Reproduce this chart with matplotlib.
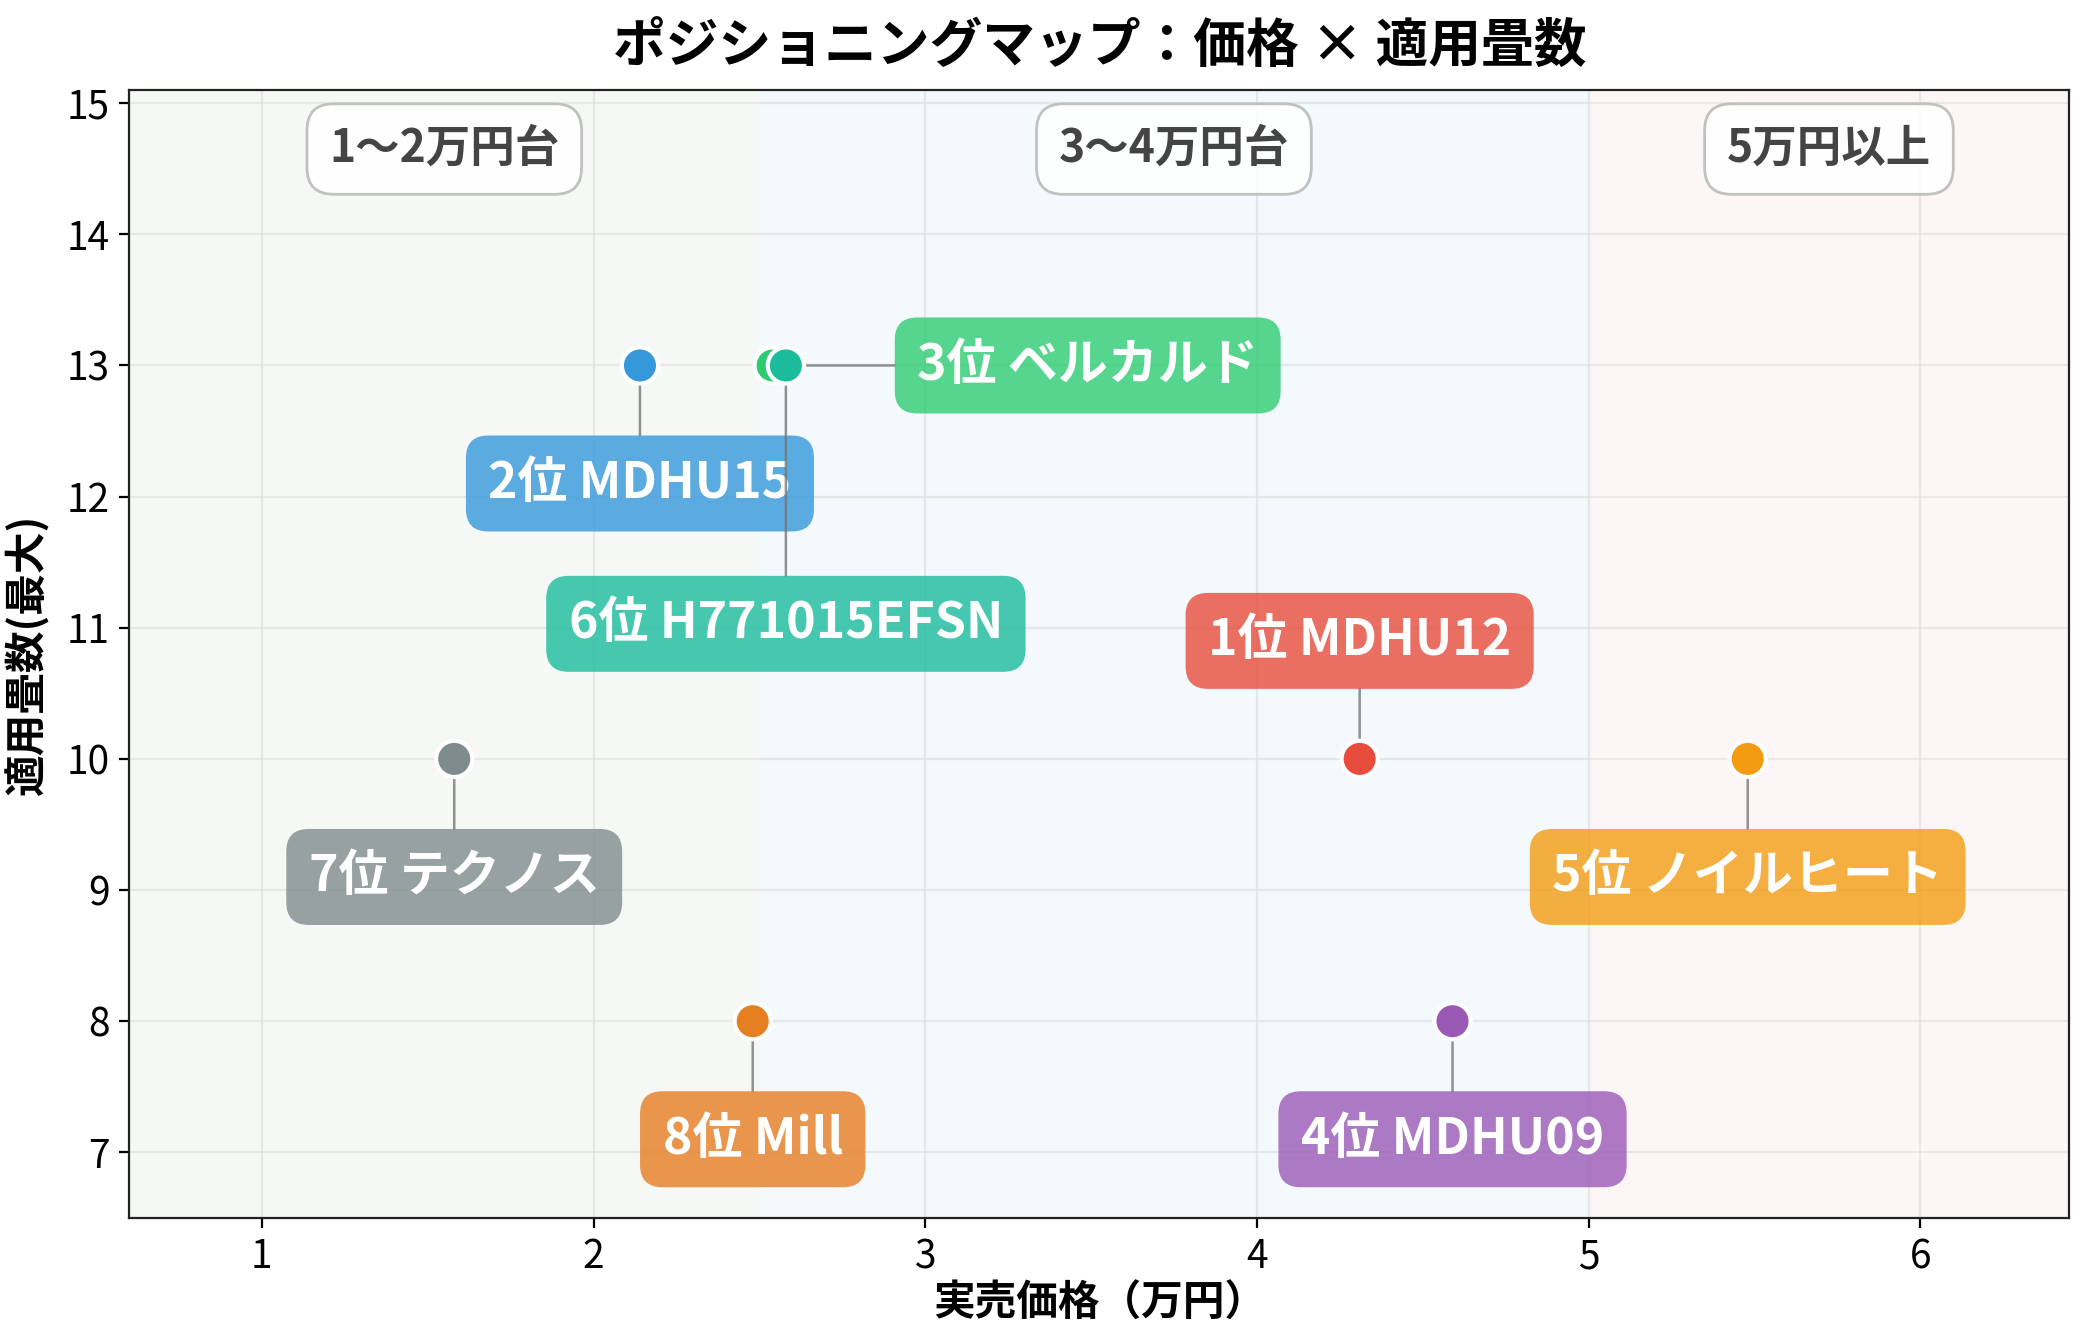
import matplotlib
matplotlib.use("Agg")
import matplotlib.pyplot as plt

plt.rcParams['font.family'] = ['Noto Sans CJK JP', 'DejaVu Sans']

# データ
names = ["1位 MDHU12", "2位 MDHU15", "3位 ベルカルド", "4位 MDHU09",
         "5位 ノイルヒート", "6位 H771015EFSN", "7位 テクノス", "8位 Mill"]
prices = [4.31, 2.14, 2.54, 4.59, 5.48, 2.58, 1.58, 2.48]   # 万円
tatami = [10, 13, 13, 8, 10, 13, 10, 8]
colors = ["#e74c3c", "#3498db", "#2ecc71", "#9b59b6",
          "#f39c12", "#1abc9c", "#7f8c8d", "#e67e22"]
label_x = [4.31, 2.14, 3.49, 4.59, 5.48, 2.58, 1.58, 2.48]
label_y = [10.9, 12.1, 13.0, 7.1, 9.1, 11.03, 9.1, 7.1]

zone_names = ["1〜2万円台", "3〜4万円台", "5万円以上"]
zone_edges = [0.6, 2.5, 5.0, 6.45]
zone_colors = ["#f6f8f6", "#f3f9fc", "#fdf6f6"]

fig, ax = plt.subplots(figsize=(10.42, 6.67), dpi=200)
fig.subplots_adjust(left=0.062, right=0.993, top=0.9325, bottom=0.087)

# 価格帯の背景
for i in range(3):
    ax.axvspan(zone_edges[i], zone_edges[i + 1], color=zone_colors[i], zorder=0, lw=0)
    ax.text((zone_edges[i] + zone_edges[i + 1]) / 2, 14.65, zone_names[i],
            ha='center', va='center', fontsize=16, fontweight='bold', color='#444444',
            bbox=dict(boxstyle='round,pad=0.5,rounding_size=0.6', fc='white', ec='#bbbbbb',
                      lw=1, alpha=0.9),
            zorder=3)

ax.scatter(prices, tatami, s=170, c=colors, edgecolors='white', linewidths=1.5, zorder=5)

for i in range(len(names)):
    ax.annotate(names[i], xy=(prices[i], tatami[i]), xytext=(label_x[i], label_y[i]),
                ha='center', va='center', fontsize=18, fontweight='bold', color='white',
                bbox=dict(boxstyle='round,pad=0.45', fc=colors[i], ec='none', alpha=0.8),
                arrowprops=dict(arrowstyle='-', color='#777777', lw=0.9, alpha=0.8,
                                shrinkA=0, shrinkB=6),
                zorder=4)

ax.set_xlim(0.6, 6.45)
ax.set_ylim(6.5, 15.1)
ax.set_yticks(range(7, 16))
ax.tick_params(labelsize=14)
ax.grid(True, color='#dddddd', alpha=0.6, lw=0.8)
ax.set_axisbelow(True)
ax.set_xlabel("実売価格（万円）", fontsize=15, fontweight='bold', labelpad=2)
ax.set_ylabel("適用畳数(最大)", fontsize=15, fontweight='bold', labelpad=6)
ax.set_title("ポジショニングマップ：価格 × 適用畳数", fontsize=19, fontweight='bold', pad=10)
for s in ax.spines.values():
    s.set_color('#222222')

fig.savefig("out.png", dpi=200)
